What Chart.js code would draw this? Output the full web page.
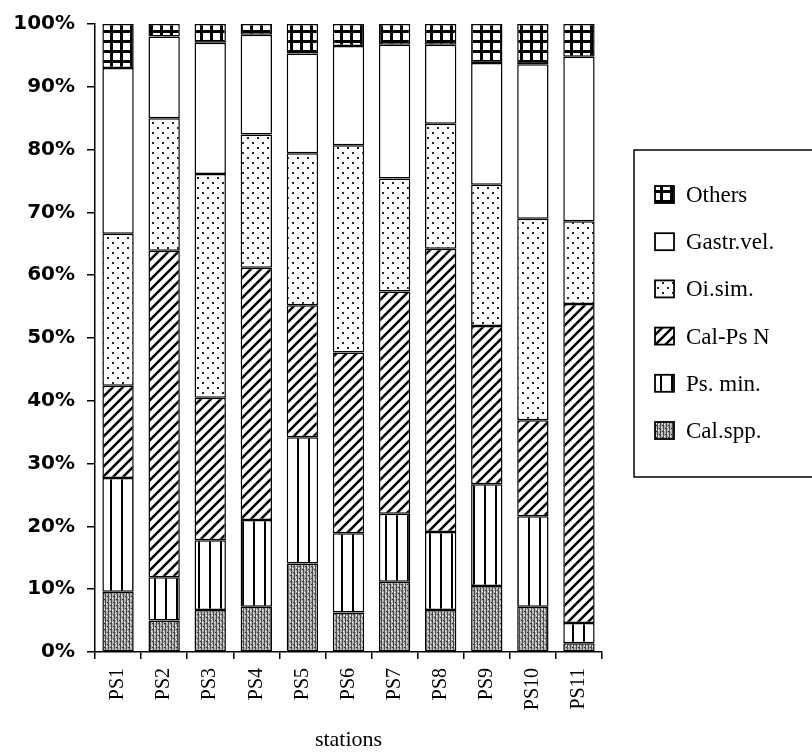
<!DOCTYPE html>
<html>
<head>
<meta charset="utf-8">
<script src="https://cdn.jsdelivr.net/npm/chart.js@4.4.0/dist/chart.umd.min.js"></script>
<style>
  html, body { margin: 0; padding: 0; background: #fff; }
  #wrap { width: 812px; height: 753px; }
</style>
</head>
<body>
<div id="wrap"><canvas id="chart"></canvas></div>
<script>
// stations and the share (%) of each taxon, bottom to top of the stack
const stations = ["PS1", "PS2", "PS3", "PS4", "PS5", "PS6", "PS7", "PS8", "PS9", "PS10", "PS11"];
const calSpp   = [9.6, 5.0, 6.7, 7.2, 14.1, 6.3, 11.2, 6.7, 10.5, 7.2, 1.4];
const psMin    = [18.1, 6.9, 11.1, 13.8, 20.1, 12.6, 10.8, 12.4, 16.2, 14.4, 3.2];
const calPsN   = [14.7, 52.0, 22.7, 40.2, 21.0, 28.8, 35.4, 45.1, 25.2, 15.3, 50.8];
const oiSim    = [24.2, 21.1, 35.6, 21.2, 24.2, 33.0, 18.0, 19.9, 22.5, 32.1, 13.2];
const gastrVel = [26.4, 13.0, 20.9, 15.9, 15.9, 15.8, 21.3, 12.6, 19.4, 24.6, 26.2];
const others   = [7.0, 2.0, 3.0, 1.7, 4.7, 3.5, 3.3, 3.3, 6.2, 6.4, 5.2];

const ctx = document.getElementById("chart").getContext("2d");

// little tile canvases used as fill patterns
function makePattern(w, h, draw) {
  const c = document.createElement("canvas");
  c.width = w; c.height = h;
  const g = c.getContext("2d");
  g.fillStyle = "#fff";
  g.fillRect(0, 0, w, h);
  draw(g);
  return ctx.createPattern(c, "repeat");
}

const patOthers = makePattern(10, 10, g => {
  g.fillStyle = "#000";
  g.fillRect(0, 0, 10, 3);
  g.fillRect(0, 0, 3, 10);
});
const patOi = makePattern(10, 10, g => {
  g.fillStyle = "#222";
  g.fillRect(2, 2, 2, 2);
  g.fillRect(7, 7, 2, 2);
});
const patCalPs = makePattern(10, 10, g => {
  g.strokeStyle = "#000";
  g.lineWidth = 2.6;
  g.beginPath();
  g.moveTo(-2, 12); g.lineTo(12, -2);
  g.moveTo(-7, 7); g.lineTo(7, -7);
  g.moveTo(3, 17); g.lineTo(17, 3);
  g.stroke();
});
const patPsMin = makePattern(11, 4, g => {
  g.fillStyle = "#000";
  g.fillRect(0, 0, 2, 4);
});
const patCalSpp = makePattern(6, 6, g => {
  g.fillStyle = "#b0b0b0";
  g.fillRect(0, 0, 6, 6);
  g.fillStyle = "#4a4a4a";
  g.fillRect(0, 0, 1, 6);
  g.fillRect(3, 0, 1, 6);
  g.fillStyle = "#fff";
  g.fillRect(1, 1, 1, 1);
  g.fillRect(4, 4, 1, 1);
  g.fillRect(2, 3, 1, 1);
  g.fillStyle = "#333";
  g.fillRect(5, 2, 1, 1);
  g.fillRect(2, 5, 1, 1);
});

function ds(label, data, fill) {
  return {
    label, data,
    backgroundColor: fill,
    borderColor: "#000",
    borderWidth: 1.5,
    borderSkipped: false,
    barPercentage: 0.68,
    categoryPercentage: 1.0,
  };
}

// boxed legend on the right, top item = top of stack
const boxLegend = {
  id: "boxLegend",
  afterDraw(chart) {
    const c = chart.ctx;
    const items = chart.data.datasets.slice().reverse();
    c.save();
    c.strokeStyle = "#000";
    c.lineWidth = 1.5;
    c.beginPath();
    c.moveTo(812, 150); c.lineTo(634, 150); c.lineTo(634, 477); c.lineTo(812, 477);
    c.stroke();
    c.font = '23px "Liberation Serif"';
    c.textBaseline = "middle";
    items.forEach((it, i) => {
      const y = 195 + i * 47.2;
      c.fillStyle = it.backgroundColor;
      c.fillRect(655, y - 9, 19, 17);
      c.lineWidth = 1.8;
      c.strokeRect(655, y - 9, 19, 17);
      c.fillStyle = "#000";
      c.fillText(it.label, 686, y + 1);
    });
    c.restore();
  }
};

new Chart(ctx, {
  type: "bar",
  data: {
    labels: stations,
    datasets: [
      ds("Cal.spp.", calSpp, patCalSpp),
      ds("Ps. min.", psMin, patPsMin),
      ds("Cal-Ps N", calPsN, patCalPs),
      ds("Oi.sim.", oiSim, patOi),
      ds("Gastr.vel.", gastrVel, "#fff"),
      ds("Others", others, patOthers),
    ],
  },
  options: {
    responsive: true,
    maintainAspectRatio: false,
    animation: false,
    layout: { padding: { top: 22, right: 210, left: 0, bottom: 0 } },
    plugins: { legend: { display: false }, tooltip: { enabled: false } },
    scales: {
      x: {
        stacked: true,
        afterFit: s => { s.height = 101; },
        grid: { drawOnChartArea: false, offset: true, tickLength: 7, color: "#000", lineWidth: 1.5 },
        border: { color: "#000", width: 1.5 },
        ticks: {
          color: "#000",
          font: { family: '"Liberation Serif"', size: 20 },
          minRotation: 90, maxRotation: 90, padding: 9,
        },
        title: {
          display: true, text: "stations", color: "#000",
          font: { family: '"Liberation Serif"', size: 22 },
          padding: { top: 0, bottom: 0 },
        },
      },
      y: {
        stacked: true,
        min: 0, max: 100,
        afterFit: s => { s.width = 95; },
        grid: { drawOnChartArea: false, tickLength: 8, color: "#000", lineWidth: 1.5 },
        border: { color: "#000", width: 1.5 },
        ticks: {
          stepSize: 10,
          color: "#000",
          padding: 12,
          font: { family: '"DejaVu Sans"', size: 20, weight: "bold" },
          callback: v => v + "%",
        },
      },
    },
  },
  plugins: [boxLegend],
});
</script>
</body>
</html>
